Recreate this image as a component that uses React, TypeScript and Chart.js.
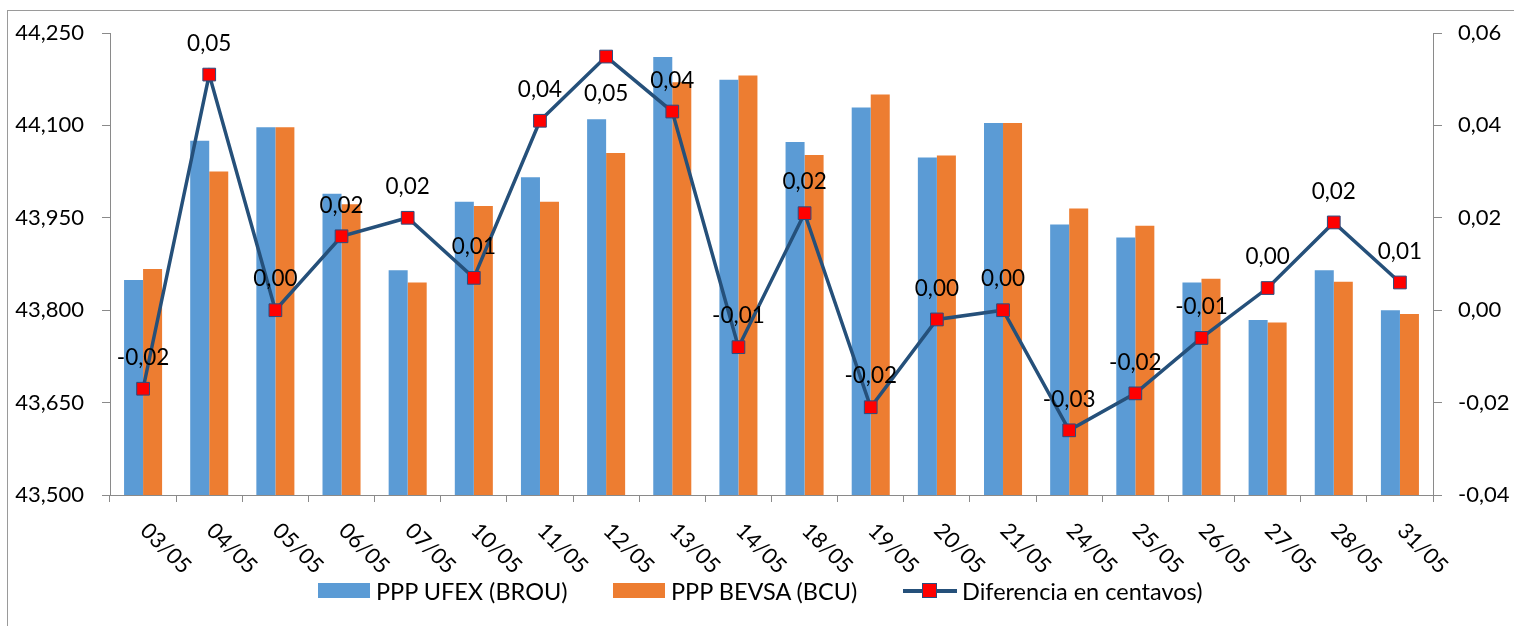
import React, { useEffect, useRef } from "react";
import { Chart, registerables } from "chart.js";

Chart.register(...registerables);

const categories = [
  "03/05", "04/05", "05/05", "06/05", "07/05", "10/05", "11/05", "12/05", "13/05", "14/05",
  "18/05", "19/05", "20/05", "21/05", "24/05", "25/05", "26/05", "27/05", "28/05", "31/05",
];

const ufexBrou = [
  43.849, 44.075, 44.097, 43.989, 43.865, 43.976, 44.016, 44.11, 44.211, 44.174,
  44.073, 44.129, 44.048, 44.104, 43.939, 43.918, 43.845, 43.784, 43.865, 43.8,
];

const bevsaBcu = [
  43.867, 44.025, 44.097, 43.972, 43.845, 43.969, 43.976, 44.055, 44.17, 44.181,
  44.052, 44.15, 44.051, 44.104, 43.965, 43.937, 43.851, 43.78, 43.846, 43.794,
];

const diferencia = [
  -0.017, 0.051, 0.0, 0.016, 0.02, 0.007, 0.041, 0.0549, 0.043, -0.008,
  0.021, -0.021, -0.002, 0.0, -0.026, -0.018, -0.006, 0.0048, 0.019, 0.006,
];

const seriesNames = ["PPP UFEX (BROU)", "PPP BEVSA (BCU)", "Diferencia en centavos)"];

const leftTicks = { min: 43.5, max: 44.25, step: 0.15 };
const rightTicks = { min: -0.04, max: 0.06, step: 0.02 };

// indices whose data label sits below the marker
const labelBelow = [7];

const BLUE = "#5B9BD5";
const ORANGE = "#ED7D31";
const LINE = "#25507A";
const AXIS = "#8a8a8a";
const FONT = "Lato";

const fmt = (v: number, d: number) => {
  let s = v.toFixed(d);
  if (Number(s) === 0) s = (0).toFixed(d);
  return s.replace(".", ",");
};

const customPlugin = {
  id: "customLabels",
  afterDatasetsDraw(chart: any) {
    const ctx = chart.ctx;
    const xs = chart.scales.x;
    ctx.save();
    ctx.font = `22px ${FONT}`;
    ctx.fillStyle = "#000";
    // rotated category labels (clockwise)
    ctx.textAlign = "left";
    ctx.textBaseline = "middle";
    categories.forEach((c, i) => {
      const px = xs.getPixelForTick(i);
      ctx.save();
      ctx.translate(px + 1, xs.top + 32);
      ctx.rotate(Math.PI / 4);
      ctx.fillText(c, 0, 0);
      ctx.restore();
    });
    // data labels
    const meta = chart.getDatasetMeta(0);
    ctx.font = `22.5px ${FONT}`;
    ctx.textAlign = "center";
    meta.data.forEach((pt: any, i: number) => {
      const below = labelBelow.includes(i);
      ctx.fillText(fmt(diferencia[i], 2), pt.x, pt.y + (below ? 37 : -31));
    });
    ctx.restore();
  },
};

export default function App() {
  const ref = useRef<HTMLCanvasElement | null>(null);

  useEffect(() => {
    if (!ref.current) return;
    const chart = new Chart(ref.current, {
      type: "bar",
      data: {
        labels: categories,
        datasets: [
          {
            type: "line",
            label: seriesNames[2],
            data: diferencia,
            yAxisID: "y1",
            borderColor: LINE,
            borderWidth: 3.5,
            pointStyle: "rect",
            pointRadius: 9,
            pointBackgroundColor: "#FF0000",
            pointBorderColor: "#2B4C7E",
            pointBorderWidth: 1,
            tension: 0,
            order: 0,
          } as any,
          {
            type: "bar",
            label: seriesNames[0],
            data: ufexBrou,
            yAxisID: "y",
            backgroundColor: BLUE,
            categoryPercentage: 0.575,
            barPercentage: 1,
            order: 1,
          },
          {
            type: "bar",
            label: seriesNames[1],
            data: bevsaBcu,
            yAxisID: "y",
            backgroundColor: ORANGE,
            categoryPercentage: 0.575,
            barPercentage: 1,
            order: 2,
          },
        ],
      },
      options: {
        responsive: false,
        animation: false,
        events: [],
        layout: { padding: { top: 33, left: 0, right: 0, bottom: 0 } },
        plugins: {
          legend: { display: false },
          tooltip: { enabled: false },
        },
        scales: {
          x: {
            offset: true,
            ticks: { display: false },
            grid: {
              offset: true,
              drawOnChartArea: false,
              drawTicks: true,
              tickLength: 7,
              color: AXIS,
              tickColor: AXIS,
            },
            border: { display: true, color: AXIS, width: 1 },
            afterFit: (s: any) => {
              s.height = 131;
            },
          },
          y: {
            position: "left",
            min: leftTicks.min,
            max: leftTicks.max,
            ticks: {
              stepSize: leftTicks.step,
              padding: 18,
              color: "#000",
              font: { family: FONT, size: 22 },
              callback: (v: any) => fmt(Number(v), 3),
            },
            grid: {
              drawOnChartArea: false,
              drawTicks: true,
              tickLength: 8,
              color: AXIS,
              tickColor: AXIS,
            },
            border: { display: true, color: AXIS, width: 1 },
            afterFit: (s: any) => {
              s.width = 110;
            },
          },
          y1: {
            position: "right",
            min: rightTicks.min,
            max: rightTicks.max,
            ticks: {
              stepSize: rightTicks.step,
              padding: 16,
              color: "#000",
              font: { family: FONT, size: 22 },
              callback: (v: any) => fmt(Number(v), 2),
            },
            grid: {
              drawOnChartArea: false,
              drawTicks: true,
              tickLength: 9,
              color: AXIS,
              tickColor: AXIS,
            },
            border: { display: true, color: AXIS, width: 1 },
            afterFit: (s: any) => {
              s.width = 81;
            },
          },
        },
      },
      plugins: [customPlugin],
    });
    return () => chart.destroy();
  }, []);

  const textStyle: React.CSSProperties = {
    position: "absolute",
    top: 577,
    height: 28,
    lineHeight: "28px",
    fontFamily: FONT,
    fontSize: 23.5,
    color: "#000",
    whiteSpace: "nowrap",
  };

  return (
    <div style={{ position: "fixed", left: 0, top: 0, width: 1514, height: 626, overflow: "hidden", background: "#fff" }}>
      <div
        style={{
          position: "absolute",
          left: 7,
          top: 10,
          width: 1600,
          height: 700,
          border: "1px solid #9a9a9a",
        }}
      />
      <canvas
        ref={ref}
        width={1514}
        height={626}
        style={{ position: "absolute", left: 0, top: 0, width: 1514, height: 626 }}
      />
      {/* legend */}
      <div style={{ position: "absolute", left: 318, top: 583, width: 52, height: 15, background: BLUE }} />
      <div style={{ ...textStyle, left: 376 }}>{seriesNames[0]}</div>
      <div style={{ position: "absolute", left: 613, top: 583, width: 52, height: 15, background: ORANGE }} />
      <div style={{ ...textStyle, left: 671 }}>{seriesNames[1]}</div>
      <div style={{ position: "absolute", left: 903, top: 589, width: 54, height: 4, background: LINE }} />
      <div
        style={{
          position: "absolute",
          left: 922,
          top: 583,
          width: 13,
          height: 13,
          background: "#FF0000",
          border: "1px solid #2B4C7E",
        }}
      />
      <div style={{ ...textStyle, left: 962 }}>{seriesNames[2]}</div>
    </div>
  );
}
